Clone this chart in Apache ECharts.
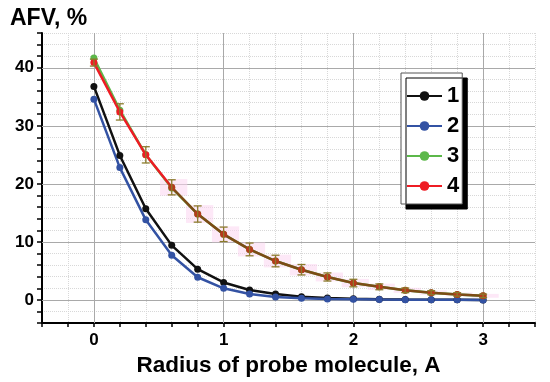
<!DOCTYPE html>
<html>
<head>
<meta charset="utf-8">
<script src="https://cdn.jsdelivr.net/npm/echarts@6/dist/echarts.min.js"></script>
<style>html,body{margin:0;padding:0;background:#fff}#c{width:550px;height:382px}</style>
</head>
<body>
<div id="c"></div>
<script>
const radius = [0, 0.2, 0.4, 0.6, 0.8, 1.0, 1.2, 1.4, 1.6, 1.8, 2.0, 2.2, 2.4, 2.6, 2.8, 3.0];
const series1 = [36.8, 24.9, 15.7, 9.4, 5.3, 3.0, 1.7, 1.0, 0.55, 0.33, 0.2, 0.1, 0.06, 0.04, 0.02, 0.0];
const series2 = [34.6, 22.8, 13.8, 7.7, 3.9, 2.0, 1.0, 0.5, 0.3, 0.15, 0.1, 0.05, 0.03, 0.02, 0.01, 0.0];
const series3 = [41.7, 32.7, 25.0, 19.3, 14.8, 11.3, 8.7, 6.7, 5.2, 3.95, 2.9, 2.25, 1.65, 1.25, 0.95, 0.7];
const series4 = [40.9, 32.4, 25.0, 19.4, 14.8, 11.3, 8.7, 6.7, 5.2, 3.95, 2.9, 2.25, 1.65, 1.25, 0.95, 0.7];
const errors4 = [0.6, 1.4, 1.4, 1.3, 1.4, 1.25, 1.1, 1.0, 0.9, 0.7, 0.65, 0.5, 0.4, 0.35, 0.3, 0.3];
const seriesNames = ['1', '2', '3', '4'];
const xLabels = [0, 1, 2, 3];
const yLabels = [0, 10, 20, 30, 40];

const FONT = 'Liberation Sans, Arial, sans-serif';
const chart = echarts.init(document.getElementById('c'), null, {renderer: 'canvas'});

const pair = (arr) => radius.map((x, i) => [x, arr[i]]);

const redData = radius.map((x, i) => ({
  value: [x, series4[i]],
  itemStyle: {color: i >= 3 ? '#b53a1c' : '#ee1c24'}
}));

const option = {
  animation: false,
  backgroundColor: '#fff',
  title: {
    text: 'AFV, %', left: 5, top: 2,
    textStyle: {fontFamily: FONT, fontSize: 23, fontWeight: 'bold', color: '#000'}
  },
  grid: {left: 42, right: 15, top: 33, bottom: 51},
  legend: {
    orient: 'vertical', left: 401, top: 73,
    data: [
      {name: seriesNames[0]}, {name: seriesNames[1]}, {name: seriesNames[2]},
      {name: seriesNames[3], itemStyle: {color: '#ee1c24'}, lineStyle: {color: '#ee1c24'}}
    ],
    itemWidth: 35, itemHeight: 12, itemGap: 8,
    padding: [12, 3, 7, 5],
    backgroundColor: '#fff', borderColor: '#555', borderWidth: 1,
    shadowColor: '#000', shadowBlur: 0, shadowOffsetX: 5, shadowOffsetY: 5,
    textStyle: {fontFamily: FONT, fontSize: 22, fontWeight: 'bold', color: '#000'}
  },
  xAxis: {
    type: 'value', min: -0.4, max: 3.4, interval: 0.2,
    name: 'Radius of probe molecule, A', nameLocation: 'middle', nameGap: 21,
    nameTextStyle: {fontFamily: FONT, fontSize: 22.5, fontWeight: 'bold', color: '#000'},
    axisLine: {show: true, onZero: false, lineStyle: {color: '#000', width: 2}},
    axisTick: {show: true, inside: false, length: 4, lineStyle: {color: '#000', width: 1.5}},
    axisLabel: {customValues: xLabels, margin: 9, fontFamily: FONT, fontSize: 17, fontWeight: 'bold', color: '#000'},
    splitLine: {show: true, lineStyle: {color: '#d8d8d8', type: 'dotted', width: 1}}
  },
  yAxis: {
    type: 'value', min: -4, max: 46, interval: 2,
    axisLine: {show: true, onZero: false, lineStyle: {color: '#000', width: 2}},
    axisTick: {show: true, inside: false, length: 5, lineStyle: {color: '#000', width: 1.5}},
    axisLabel: {customValues: yLabels, margin: 8, fontFamily: FONT, fontSize: 17, fontWeight: 'bold', color: '#000'},
    splitLine: {show: true, lineStyle: {color: '#d8d8d8', type: 'dotted', width: 1}}
  },
  series: [
    {
      type: 'custom', name: 'band', silent: true, z: 1,
      data: radius.map((x, i) => [x, series4[i], errors4[i], i]),
      renderItem: function (params, api) {
        const idx = api.value(3);
        if (idx < 3) return null;
        const x = api.value(0), y = api.value(1), e = api.value(2) * 1.1;
        const p1 = api.coord([x - 0.09, y + e]);
        const p2 = api.coord([x + 0.12, y - e]);
        return {type: 'rect', shape: {x: p1[0], y: p1[1], width: p2[0] - p1[0], height: p2[1] - p1[1]},
                style: {fill: '#fcd6f1', opacity: 0.55}};
      }
    },
    {
      name: '1', type: 'line', data: pair(series1), z: 3,
      symbol: 'circle', symbolSize: 7, showSymbol: true,
      itemStyle: {color: '#111111'}, lineStyle: {color: '#111111', width: 2.5},
      markLine: {
        silent: true, symbol: 'none', z: 1, label: {show: false},
        lineStyle: {color: '#a9a9a9', type: 'solid', width: 1},
        emphasis: {disabled: true},
        data: xLabels.map(v => ({xAxis: v})).concat(yLabels.map(v => ({yAxis: v})))
      }
    },
    {
      name: '2', type: 'line', data: pair(series2), z: 3,
      symbol: 'circle', symbolSize: 7,
      itemStyle: {color: '#3352a3'}, lineStyle: {color: '#3352a3', width: 2.5}
    },
    {
      name: '3', type: 'line', data: pair(series3), z: 3,
      symbol: 'circle', symbolSize: 7,
      itemStyle: {color: '#5cb84a'}, lineStyle: {color: '#5cb84a', width: 2.5}
    },
    {
      name: '4', type: 'line', data: redData, z: 4,
      symbol: 'circle', symbolSize: 7,
      itemStyle: {color: '#ee1c24'},
      lineStyle: {
        width: 2.5,
        color: new echarts.graphic.LinearGradient(0, 0, 1, 0, [
          {offset: 0, color: '#ee1c24'}, {offset: 0.19, color: '#ee1c24'},
          {offset: 0.215, color: '#7d4a16'}, {offset: 1, color: '#7d4a16'}
        ])
      }
    },
    {
      type: 'custom', name: 'err', silent: true, z: 5,
      data: radius.map((x, i) => [x, series4[i], errors4[i]]),
      renderItem: function (params, api) {
        const x = api.value(0), y = api.value(1), e = api.value(2);
        const t = api.coord([x, y + e]);
        const b = api.coord([x, y - e]);
        const w = 4;
        const st = {stroke: '#8a7b2c', lineWidth: 1.3};
        return {type: 'group', children: [
          {type: 'line', shape: {x1: t[0], y1: t[1], x2: b[0], y2: b[1]}, style: st},
          {type: 'line', shape: {x1: t[0] - w, y1: t[1], x2: t[0] + w, y2: t[1]}, style: st},
          {type: 'line', shape: {x1: b[0] - w, y1: b[1], x2: b[0] + w, y2: b[1]}, style: st}
        ]};
      }
    }
  ]
};
chart.setOption(option);
</script>
</body>
</html>
